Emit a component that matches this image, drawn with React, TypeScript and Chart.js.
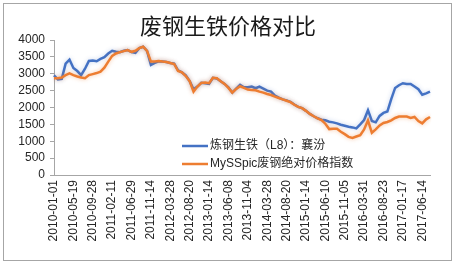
import React, { useEffect, useRef } from "react";
import { Chart, registerables } from "chart.js";

Chart.register(...registerables);

const chartTitle = "废钢生铁价格对比";
const seriesNames = ["炼钢生铁（L8）：襄汾", "MySSpic废钢绝对价格指数"];
const tickLabels = [
  "2010-01-01", "2010-05-19", "2010-09-28", "2011-02-11", "2011-06-29",
  "2011-11-14", "2012-03-28", "2012-08-20", "2013-01-14", "2013-06-08",
  "2013-11-04", "2014-03-28", "2014-08-20", "2015-01-14", "2015-06-10",
  "2015-11-05", "2016-03-31", "2016-08-23", "2017-01-17", "2017-06-14",
];
const yTicks = [0, 500, 1000, 1500, 2000, 2500, 3000, 3500, 4000];

const pigIron = [
  2950, 2830, 2850, 3300, 3420, 3170, 3080, 2960, 3150, 3380,
  3390, 3370, 3440, 3490, 3600, 3680, 3650, 3640, 3680, 3700,
  3640, 3620, 3760, 3800, 3680, 3260, 3320, 3370, 3360, 3350,
  3320, 3300, 3100, 3040, 2950, 2780, 2540, 2620, 2730, 2720,
  2700, 2880, 2860, 2780, 2700, 2600, 2440, 2560, 2670, 2600,
  2600, 2620, 2570, 2620, 2560, 2500, 2470, 2350, 2290, 2240,
  2210, 2170, 2090, 2020, 1980, 1900, 1810, 1740, 1680, 1640,
  1620, 1580, 1560, 1530, 1490, 1460, 1430, 1410, 1380, 1500,
  1630, 1920, 1600, 1560, 1750, 1840, 1880, 2250, 2580, 2660,
  2720, 2700, 2700, 2620, 2540, 2380, 2420, 2470,
];

const scrapIndex = [
  2870, 2870, 2890, 2960, 3010, 2960, 2920, 2890, 2870, 2960,
  2990, 3020, 3060, 3180, 3360, 3530, 3600, 3640, 3670, 3700,
  3650, 3680, 3760, 3800, 3680, 3360, 3360, 3380, 3360, 3350,
  3320, 3290, 3080, 3040, 2930, 2780, 2470, 2620, 2730, 2740,
  2720, 2880, 2870, 2780, 2700, 2580, 2440, 2550, 2630, 2580,
  2530, 2520, 2510, 2470, 2440, 2400, 2370, 2320, 2280, 2240,
  2200, 2160, 2080, 2020, 1980, 1900, 1810, 1740, 1680, 1630,
  1520, 1360, 1370, 1370, 1280, 1210, 1130, 1100, 1140, 1180,
  1350, 1620, 1250, 1350, 1470, 1540, 1570, 1620, 1690, 1730,
  1730, 1730, 1690, 1720, 1600, 1530, 1650, 1720,
];

const categories = tickLabels.flatMap((t, i) =>
  i < tickLabels.length - 1 ? [t, "", "", "", ""] : [t, "", ""]
);

const BLUE = "#4472C4";
const ORANGE = "#ED7D31";
const FONT = "'Liberation Sans', 'Noto Sans CJK SC', sans-serif";

export default function App() {
  const ref = useRef<HTMLCanvasElement | null>(null);

  useEffect(() => {
    if (!ref.current) return;
    const framePlugin = {
      id: "frame",
      beforeDraw(chart: any) {
        const ctx = chart.ctx;
        ctx.save();
        ctx.fillStyle = "#ffffff";
        ctx.fillRect(0, 0, chart.width, chart.height);
        ctx.strokeStyle = "#a6a6a6";
        ctx.lineWidth = 1;
        ctx.strokeRect(3.5, 3.5, 448, 257);
        ctx.fillStyle = "#1a1a1a";
        ctx.font = "22px 'Noto Sans CJK SC', sans-serif";
        ctx.textAlign = "center";
        ctx.textBaseline = "middle";
        ctx.fillText(chartTitle, 228, 26);
        ctx.restore();
      },
      beforeDatasetDraw(chart: any, args: any) {
        const ctx = chart.ctx;
        ctx.save();
        const ds = chart.data.datasets[args.index];
        ctx.shadowColor = ds.borderColor === ORANGE ? "rgba(237,125,49,0.45)" : "rgba(68,114,196,0.3)";
        ctx.shadowBlur = 4;
      },
      afterDatasetDraw(chart: any) {
        chart.ctx.restore();
      },
      afterDraw(chart: any) {
        const ctx = chart.ctx;
        ctx.save();
        const colors = [BLUE, ORANGE];
        const ys = [146, 164];
        ctx.font = "12px " + FONT;
        ctx.textBaseline = "middle";
        ctx.textAlign = "left";
        for (let i = 0; i < 2; i++) {
          ctx.strokeStyle = colors[i];
          ctx.lineWidth = 2.5;
          ctx.beginPath();
          ctx.moveTo(182, ys[i]);
          ctx.lineTo(208, ys[i]);
          ctx.stroke();
          ctx.fillStyle = "#262626";
          ctx.fillText(seriesNames[i], 210, ys[i]);
        }
        ctx.restore();
      },
    };

    const chart = new Chart(ref.current, {
      type: "line",
      data: {
        labels: categories,
        datasets: [
          {
            label: seriesNames[0],
            data: pigIron,
            borderColor: BLUE,
            backgroundColor: BLUE,
            borderWidth: 2.5,
            pointRadius: 0,
            tension: 0,
            order: 1,
          },
          {
            label: seriesNames[1],
            data: scrapIndex,
            borderColor: ORANGE,
            backgroundColor: ORANGE,
            borderWidth: 2.5,
            pointRadius: 0,
            tension: 0,
            order: 0,
          },
        ],
      },
      plugins: [framePlugin],
      options: {
        animation: false,
        responsive: false,
        devicePixelRatio: 1,
        layout: { padding: { left: 5, right: 26, top: 40, bottom: 6 } },
        plugins: {
          legend: { display: false },
          title: { display: false },
          tooltip: { enabled: false },
        },
        scales: {
          x: {
            type: "category",
            offset: false,
            border: { display: true, color: "#a6a6a6", width: 1 },
            grid: { display: false, drawTicks: false },
            ticks: {
              autoSkip: false,
              maxRotation: 90,
              minRotation: 90,
              padding: 5,
              color: "#262626",
              font: { size: 12, family: FONT },
              callback: function (this: any, v: any) {
                return this.getLabelForValue(v);
              },
            },
            afterFit(scale: any) {
              scale.height = 85;
            },
          },
          y: {
            min: 0,
            max: 4000,
            border: { display: true, color: "#a6a6a6", width: 1 },
            grid: {
              display: true,
              drawOnChartArea: false,
              drawTicks: true,
              tickLength: 4,
              color: "#a6a6a6",
            },
            afterBuildTicks(scale: any) {
              scale.ticks = yTicks.map((v) => ({ value: v }));
            },
            ticks: {
              autoSkip: false,
              padding: 5,
              color: "#262626",
              font: { size: 12, family: FONT },
              callback: (v: any) => String(v),
            },
            afterFit(scale: any) {
              scale.width = 49;
            },
          },
        },
      },
    });
    return () => chart.destroy();
  }, []);

  return (
    <div style={{ position: "fixed", left: 0, top: 0, width: 456, height: 266, background: "#fff" }}>
      <canvas ref={ref} width={456} height={266} style={{ width: 456, height: 266, display: "block" }} />
    </div>
  );
}
